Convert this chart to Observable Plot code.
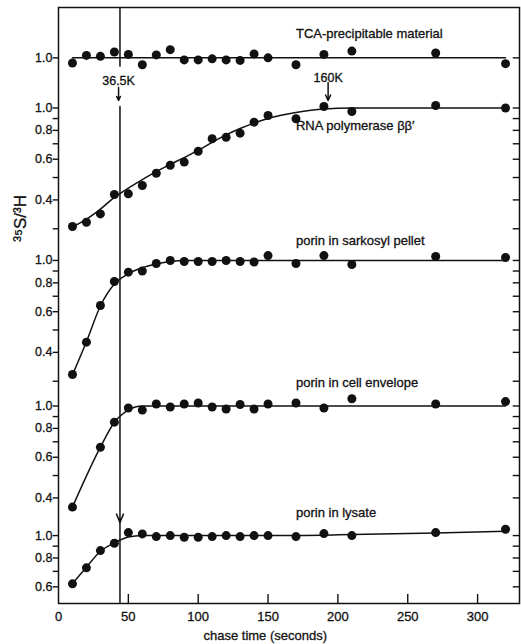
<!DOCTYPE html>
<html><head><meta charset="utf-8">
<script src="https://cdn.jsdelivr.net/npm/d3@7"></script>
<script src="https://cdn.jsdelivr.net/npm/@observablehq/plot@0.6"></script>
<style>
html,body{margin:0;padding:0;background:#fff;}
#chart svg{display:block;}
</style></head><body><div id="chart"></div>
<script>
// ---- data ----
const times = [10,20,30,40,50,60,70,80,90,100,110,120,130,140,150,170,190,210,270,320];
const panelNames = ["TCA-precipitable material","RNA polymerase ββ′","porin in sarkosyl pellet","porin in cell envelope","porin in lysate"];
const tcaValues  = [0.95,1.025,1.015,1.06,1.035,0.934,1.03,1.085,0.98,0.98,0.99,0.98,0.975,1.04,1.0,0.934,1.035,1.07,1.05,0.944];
const rnaValues  = [0.307,0.32,0.348,0.422,0.425,0.462,0.522,0.565,0.583,0.65,0.736,0.747,0.778,0.868,0.928,0.898,1.015,0.966,1.025,1.0];
const sarkValues = [0.321,0.443,0.638,0.811,0.89,0.90,0.97,1.0,0.99,0.99,0.99,1.0,0.99,0.985,1.05,0.97,1.05,0.96,1.04,1.03];
const envValues  = [0.365,null,0.663,0.851,0.98,0.96,1.02,0.99,1.02,1.03,0.99,0.97,1.015,0.97,1.02,1.03,0.98,1.075,1.02,1.045];
const lysValues  = [0.618,0.725,0.861,0.926,1.03,1.017,0.99,1.0,0.983,0.983,0.99,1.0,0.99,1.0,1.0,0.99,1.02,1.0,1.03,1.065];

// fitted curves drawn through the points
const tcaFitT  = [10,320];
const tcaFit   = [1.0,1.0];
const rnaFitT  = [10,20,30,40,50,60,70,80,90,100,110,120,130,140,150,170,190,210,320];
const rnaFit   = [0.305,0.33,0.365,0.41,0.45,0.49,0.53,0.57,0.61,0.655,0.71,0.765,0.815,0.86,0.90,0.955,0.99,1.0,1.0];
const sarkFitT = [10,20,30,40,50,60,70,80,90,320];
const sarkFit  = [0.32,0.445,0.635,0.79,0.876,0.93,0.965,0.99,1.0,1.0];
const envFitT  = [10,30,40,50,60,320];
const envFit   = [0.365,0.663,0.85,0.96,1.0,1.0];
const lysFitT  = [10,20,30,40,50,60,150,210,270,320];
const lysFit   = [0.62,0.73,0.855,0.93,0.985,1.0,1.0,1.01,1.025,1.045];

// axes
const xTicks = [0,50,100,150,200,250,300];
const panelTicks = [[1.0],[1,0.9,0.8,0.7,0.6,0.5,0.4,0.3],[1,0.9,0.8,0.7,0.6,0.5,0.4,0.3],[1,0.9,0.8,0.7,0.6,0.5,0.4],[1,0.9,0.8,0.7,0.6]];
const panelTickLabels = [[1.0],[1.0,0.8,0.6,0.4],[1.0,0.8,0.6,0.4],[1.0,0.8,0.6,0.4],[1.0,0.8,0.6]];
const xLabel = "chase time (seconds)";
const yLabel = "³⁵S/³H";
const arrowLabels = ["36.5K","160K"];
const arrowTimes = [43,193];
const markerTime = 44;

// ---- layout: each panel is a log10 strip stacked on one shared axis ----
const panelBase = [2.362, 2.145, 1.485, 0.855, 0.294]; // position of 1.0 in each panel (decades)
const yMax = 2.58;
const labelLevel = [1.277, 0.84, 1.22, 1.26, 1.25];
const labelTime = 170;
const pos = (k, v) => panelBase[k] + Math.log10(v);

const series = [tcaValues, rnaValues, sarkValues, envValues, lysValues];
const fits = [[tcaFitT,tcaFit],[rnaFitT,rnaFit],[sarkFitT,sarkFit],[envFitT,envFit],[lysFitT,lysFit]];
const dots = series.flatMap((vals,k)=>vals.map((v,i)=>({t:times[i], v, k}))).filter(d=>d.v!=null);
const fitRows = fits.flatMap(([ts,vs],k)=>ts.map((t,i)=>({t, v:vs[i], k})));
const tickRows = panelTicks.flatMap((ts,k)=>ts.map(v=>({k,v})));
const tickLabelRows = panelTickLabels.flatMap((ts,k)=>ts.map(v=>({k,v})));
const nameRows = panelNames.map((name,k)=>({name,k}));

const ink = "#111";
const font = "Liberation Sans, Arial, sans-serif";

const chart = Plot.plot({
  width: 521, height: 644,
  marginLeft: 58, marginRight: 2, marginTop: 7, marginBottom: 41,
  style: {fontFamily: font, background: "#fff", color: ink},
  x: {domain: [0,330], axis: null},
  y: {domain: [0,yMax], axis: null},
  marks: [
    Plot.frame({stroke: ink, strokeWidth: 1.5}),
    // left ticks (outward)
    Plot.ruleY(tickRows, {y: d=>pos(d.k,d.v), x1: -3.8, x2: 0, stroke: ink, strokeWidth: 1.4}),
    Plot.text(tickLabelRows, {x: 0, y: d=>pos(d.k,d.v), dx: -6, textAnchor: "end", text: d=>d.v.toFixed(1), fontSize: 12.5, fill: ink, stroke: ink, strokeWidth: 0.3}),
    // right ticks (inward)
    Plot.ruleY(tickRows, {y: d=>pos(d.k,d.v), x1: 325.5, x2: 330, stroke: ink, strokeWidth: 1.4}),
    // bottom ticks (inward)
    Plot.ruleX(xTicks.filter(t=>t>0), {x: d=>d, y1: 0, y2: 9/231, stroke: ink, strokeWidth: 1.4}),
    Plot.text(xTicks, {x: d=>d, y: 0, dy: 13, text: d=>String(d), fontSize: 13, fill: ink, stroke: ink, strokeWidth: 0.3}),
    Plot.text([xLabel], {x: 148, y: 0, dy: 32, text: d=>d, fontSize: 13, fill: ink, stroke: ink, strokeWidth: 0.3}),
    Plot.text([yLabel], {x: 0, y: 1.667, dx: -38, rotate: -90, text: d=>d, fontSize: 17, fill: ink, stroke: ink, strokeWidth: 0.3}),
    // fitted curves and points
    Plot.line(fitRows, {x: "t", y: d=>pos(d.k,d.v), z: "k", curve: "monotone-x", stroke: ink, strokeWidth: 1.5}),
    Plot.dot(dots, {x: "t", y: d=>pos(d.k,d.v), r: 4.5, fill: ink, stroke: "none"}),
    // panel names
    Plot.text(nameRows, {x: labelTime, y: d=>pos(d.k,labelLevel[d.k]), text: "name", textAnchor: "start", fontSize: 13, fill: ink, stroke: ink, strokeWidth: 0.3}),
    // vertical marker line at ~44 s
    Plot.ruleX([markerTime], {x: d=>d, y1: yMax, y2: pos(0,0.91), stroke: ink, strokeWidth: 1.5}),
    Plot.arrow([markerTime], {x1: d=>d, x2: d=>d, y1: pos(1,1.016), y2: pos(4,1.14), stroke: ink, strokeWidth: 1.5, headLength: 9, headAngle: 45}),
    Plot.ruleX([markerTime], {x: d=>d, y1: pos(4,1.14), y2: 0, stroke: ink, strokeWidth: 1.5}),
    // size markers
    Plot.arrow([0,1], {x1: i=>arrowTimes[i], x2: i=>arrowTimes[i], y1: i=>pos(1,[1.227,1.289][i]), y2: pos(1,1.078), stroke: ink, strokeWidth: 1.5, headLength: 8, headAngle: 50}),
    Plot.text([0,1], {x: i=>arrowTimes[i], y: i=>pos(1,[1.315,1.35][i]), text: i=>arrowLabels[i], fontSize: 12.5, fill: ink, stroke: ink, strokeWidth: 0.3})
  ]
});
document.getElementById("chart").appendChild(chart);
</script>
</body></html>
